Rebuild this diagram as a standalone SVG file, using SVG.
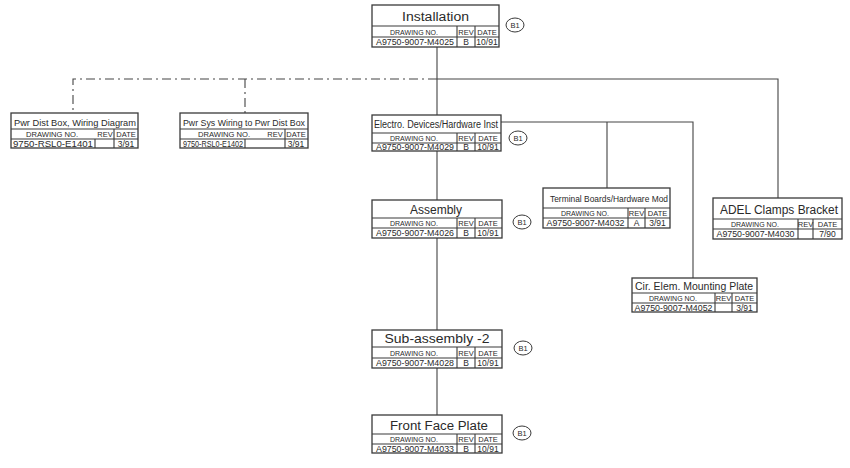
<svg xmlns="http://www.w3.org/2000/svg" width="850" height="468" viewBox="0 0 850 468">
<style>
.bx{fill:#fff;stroke:#3a3a3a;stroke-width:1.3}
.ln{stroke:#3a3a3a;stroke-width:1.1;fill:none}
.t{font-family:"Liberation Sans",Arial,sans-serif;fill:#2a2a2a;text-anchor:middle}
.h{font-size:7.5px}
.v{font-size:8.5px}
.c{fill:#fff;stroke:#3a3a3a;stroke-width:1}
.cn{stroke:#444;stroke-width:1.1;fill:none}
.dash{stroke-dasharray:9 4 2 4}
</style>
<rect width="850" height="468" fill="#fff"/>
<g id="connectors">
<path class="cn" d="M437 47V115M437 151V200M437 238V330M437 368V415"/>
<path class="cn dash" d="M437 79H73V113M245 79V113"/>
<path class="cn" d="M437 79H778V198"/>
<path class="cn" d="M501 122H693V278M607 122V188"/>
</g>
<g id="installation">
<rect class="bx" x="372" y="5" width="127" height="42"/>
<path class="ln" d="M372 26H499M372 37H499M457 26V47M475 26V47"/>
<text class="t" x="435.5" y="21" font-size="12" textLength="67" lengthAdjust="spacingAndGlyphs">Installation</text>
<text class="t h" x="414" y="34.5" textLength="48" lengthAdjust="spacingAndGlyphs">DRAWING NO.</text>
<text class="t h" x="466" y="34.5">REV</text>
<text class="t h" x="487" y="34.5">DATE</text>
<text class="t v" x="415" y="45" textLength="78" lengthAdjust="spacingAndGlyphs">A9750-9007-M4025</text>
<text class="t v" x="466" y="45">B</text>
<text class="t v" x="487" y="45">10/91</text>
<ellipse class="c" cx="515" cy="25" rx="9" ry="7"/>
<text class="t h" x="515" y="27.5">B1</text>
</g>
<g id="pwr-dist-box">
<rect class="bx" x="11" y="113" width="127" height="35"/>
<path class="ln" d="M11 129H138M11 139H138M95 139V148M114 129V148"/>
<text class="t" x="75" y="125.5" font-size="9" textLength="122" lengthAdjust="spacingAndGlyphs">Pwr Dist Box, Wiring Diagram</text>
<text class="t h" x="52" y="137" textLength="52" lengthAdjust="spacingAndGlyphs">DRAWING NO.</text>
<text class="t h" x="105" y="137">REV</text>
<text class="t h" x="126" y="137">DATE</text>
<text class="t v" x="53" y="146.5" textLength="80" lengthAdjust="spacingAndGlyphs">9750-RSL0-E1401</text>
<text class="t v" x="126" y="146.5">3/91</text>
</g>
<g id="pwr-sys-wiring">
<rect class="bx" x="180" y="113" width="128" height="35"/>
<path class="ln" d="M180 129H308M180 139H308M245 139V148M285 129V148"/>
<text class="t" x="244" y="125.5" font-size="9" textLength="122" lengthAdjust="spacingAndGlyphs">Pwr Sys Wiring to Pwr Dist Box</text>
<text class="t h" x="224" y="137" textLength="52" lengthAdjust="spacingAndGlyphs">DRAWING NO.</text>
<text class="t h" x="275" y="137">REV</text>
<text class="t h" x="296" y="137">DATE</text>
<text class="t v" x="213" y="146.5" textLength="60" lengthAdjust="spacingAndGlyphs">9750-RSL0-E1402</text>
<text class="t v" x="296" y="146.5">3/91</text>
</g>
<g id="electro-devices">
<rect class="bx" x="372" y="115" width="129" height="36"/>
<path class="ln" d="M372 133H501M372 143H501M457 133V151M475 133V151"/>
<text class="t" x="436" y="128" font-size="10" textLength="124" lengthAdjust="spacingAndGlyphs">Electro. Devices/Hardware Inst</text>
<text class="t h" x="414" y="141" textLength="48" lengthAdjust="spacingAndGlyphs">DRAWING NO.</text>
<text class="t h" x="466" y="141">REV</text>
<text class="t h" x="488" y="141">DATE</text>
<text class="t v" x="415" y="149.5" textLength="78" lengthAdjust="spacingAndGlyphs">A9750-9007-M4029</text>
<text class="t v" x="466" y="149.5">B</text>
<text class="t v" x="488" y="149.5">10/91</text>
<ellipse class="c" cx="518" cy="138" rx="9" ry="7"/>
<text class="t h" x="518" y="140.5">B1</text>
</g>
<g id="assembly">
<rect class="bx" x="372" y="200" width="130" height="38"/>
<path class="ln" d="M372 218H502M372 228H502M457 218V238M475 218V238"/>
<text class="t" x="436" y="214" font-size="12" textLength="52" lengthAdjust="spacingAndGlyphs">Assembly</text>
<text class="t h" x="414" y="226" textLength="48" lengthAdjust="spacingAndGlyphs">DRAWING NO.</text>
<text class="t h" x="466" y="226">REV</text>
<text class="t h" x="488" y="226">DATE</text>
<text class="t v" x="415" y="236" textLength="78" lengthAdjust="spacingAndGlyphs">A9750-9007-M4026</text>
<text class="t v" x="466" y="236">B</text>
<text class="t v" x="488" y="236">10/91</text>
<ellipse class="c" cx="522" cy="222" rx="9" ry="7"/>
<text class="t h" x="522" y="224.5">B1</text>
</g>
<g id="sub-assembly-2">
<rect class="bx" x="372" y="330" width="130" height="38"/>
<path class="ln" d="M372 347H502M372 358H502M457 347V368M475 347V368"/>
<text class="t" x="437" y="342.5" font-size="13" textLength="105" lengthAdjust="spacingAndGlyphs">Sub-assembly -2</text>
<text class="t h" x="414" y="356" textLength="48" lengthAdjust="spacingAndGlyphs">DRAWING NO.</text>
<text class="t h" x="466" y="356">REV</text>
<text class="t h" x="488" y="356">DATE</text>
<text class="t v" x="415" y="366" textLength="78" lengthAdjust="spacingAndGlyphs">A9750-9007-M4028</text>
<text class="t v" x="466" y="366">B</text>
<text class="t v" x="488" y="366">10/91</text>
<ellipse class="c" cx="523" cy="348" rx="9" ry="7"/>
<text class="t h" x="523" y="350.5">B1</text>
</g>
<g id="front-face-plate">
<rect class="bx" x="372" y="415" width="130" height="38"/>
<path class="ln" d="M372 434H502M372 444H502M457 434V453M475 434V453"/>
<text class="t" x="439" y="429.5" font-size="12" textLength="98" lengthAdjust="spacingAndGlyphs">Front Face Plate</text>
<text class="t h" x="414" y="442" textLength="48" lengthAdjust="spacingAndGlyphs">DRAWING NO.</text>
<text class="t h" x="466" y="442">REV</text>
<text class="t h" x="488" y="442">DATE</text>
<text class="t v" x="415" y="451.5" textLength="78" lengthAdjust="spacingAndGlyphs">A9750-9007-M4033</text>
<text class="t v" x="466" y="451.5">B</text>
<text class="t v" x="488" y="451.5">10/91</text>
<ellipse class="c" cx="522" cy="433" rx="9" ry="7"/>
<text class="t h" x="522" y="435.5">B1</text>
</g>
<g id="terminal-boards">
<rect class="bx" x="543" y="188" width="127" height="40"/>
<path class="ln" d="M543 208H670M543 218H670M628 208V228M645 208V228"/>
<text class="t" x="609" y="201.5" font-size="9.5" textLength="118" lengthAdjust="spacingAndGlyphs">Terminal Boards/Hardware Mod</text>
<text class="t h" x="585" y="216" textLength="48" lengthAdjust="spacingAndGlyphs">DRAWING NO.</text>
<text class="t h" x="636.5" y="216">REV</text>
<text class="t h" x="657.5" y="216">DATE</text>
<text class="t v" x="585.5" y="226" textLength="78" lengthAdjust="spacingAndGlyphs">A9750-9007-M4032</text>
<text class="t v" x="636.5" y="226">A</text>
<text class="t v" x="657.5" y="226">3/91</text>
</g>
<g id="adel-clamps-bracket">
<rect class="bx" x="713" y="198" width="129" height="41"/>
<path class="ln" d="M713 219H842M713 229H842M798 219V239M813 219V239"/>
<text class="t" x="779" y="214" font-size="12" textLength="118" lengthAdjust="spacingAndGlyphs">ADEL Clamps Bracket</text>
<text class="t h" x="755" y="227" textLength="48" lengthAdjust="spacingAndGlyphs">DRAWING NO.</text>
<text class="t h" x="805.5" y="227">REV</text>
<text class="t h" x="827.5" y="227">DATE</text>
<text class="t v" x="755.5" y="237" textLength="78" lengthAdjust="spacingAndGlyphs">A9750-9007-M4030</text>
<text class="t v" x="827.5" y="237">7/90</text>
</g>
<g id="cir-elem-mounting-plate">
<rect class="bx" x="632" y="278" width="125" height="34"/>
<path class="ln" d="M632 293H757M632 303H757M715 293V312M732 293V312"/>
<text class="t" x="694" y="290" font-size="10.5" textLength="118" lengthAdjust="spacingAndGlyphs">Cir. Elem. Mounting Plate</text>
<text class="t h" x="673" y="301" textLength="48" lengthAdjust="spacingAndGlyphs">DRAWING NO.</text>
<text class="t h" x="723.5" y="301">REV</text>
<text class="t h" x="744.5" y="301">DATE</text>
<text class="t v" x="673.5" y="310.5" textLength="78" lengthAdjust="spacingAndGlyphs">A9750-9007-M4052</text>
<text class="t v" x="744.5" y="310.5">3/91</text>
</g>
</svg>
